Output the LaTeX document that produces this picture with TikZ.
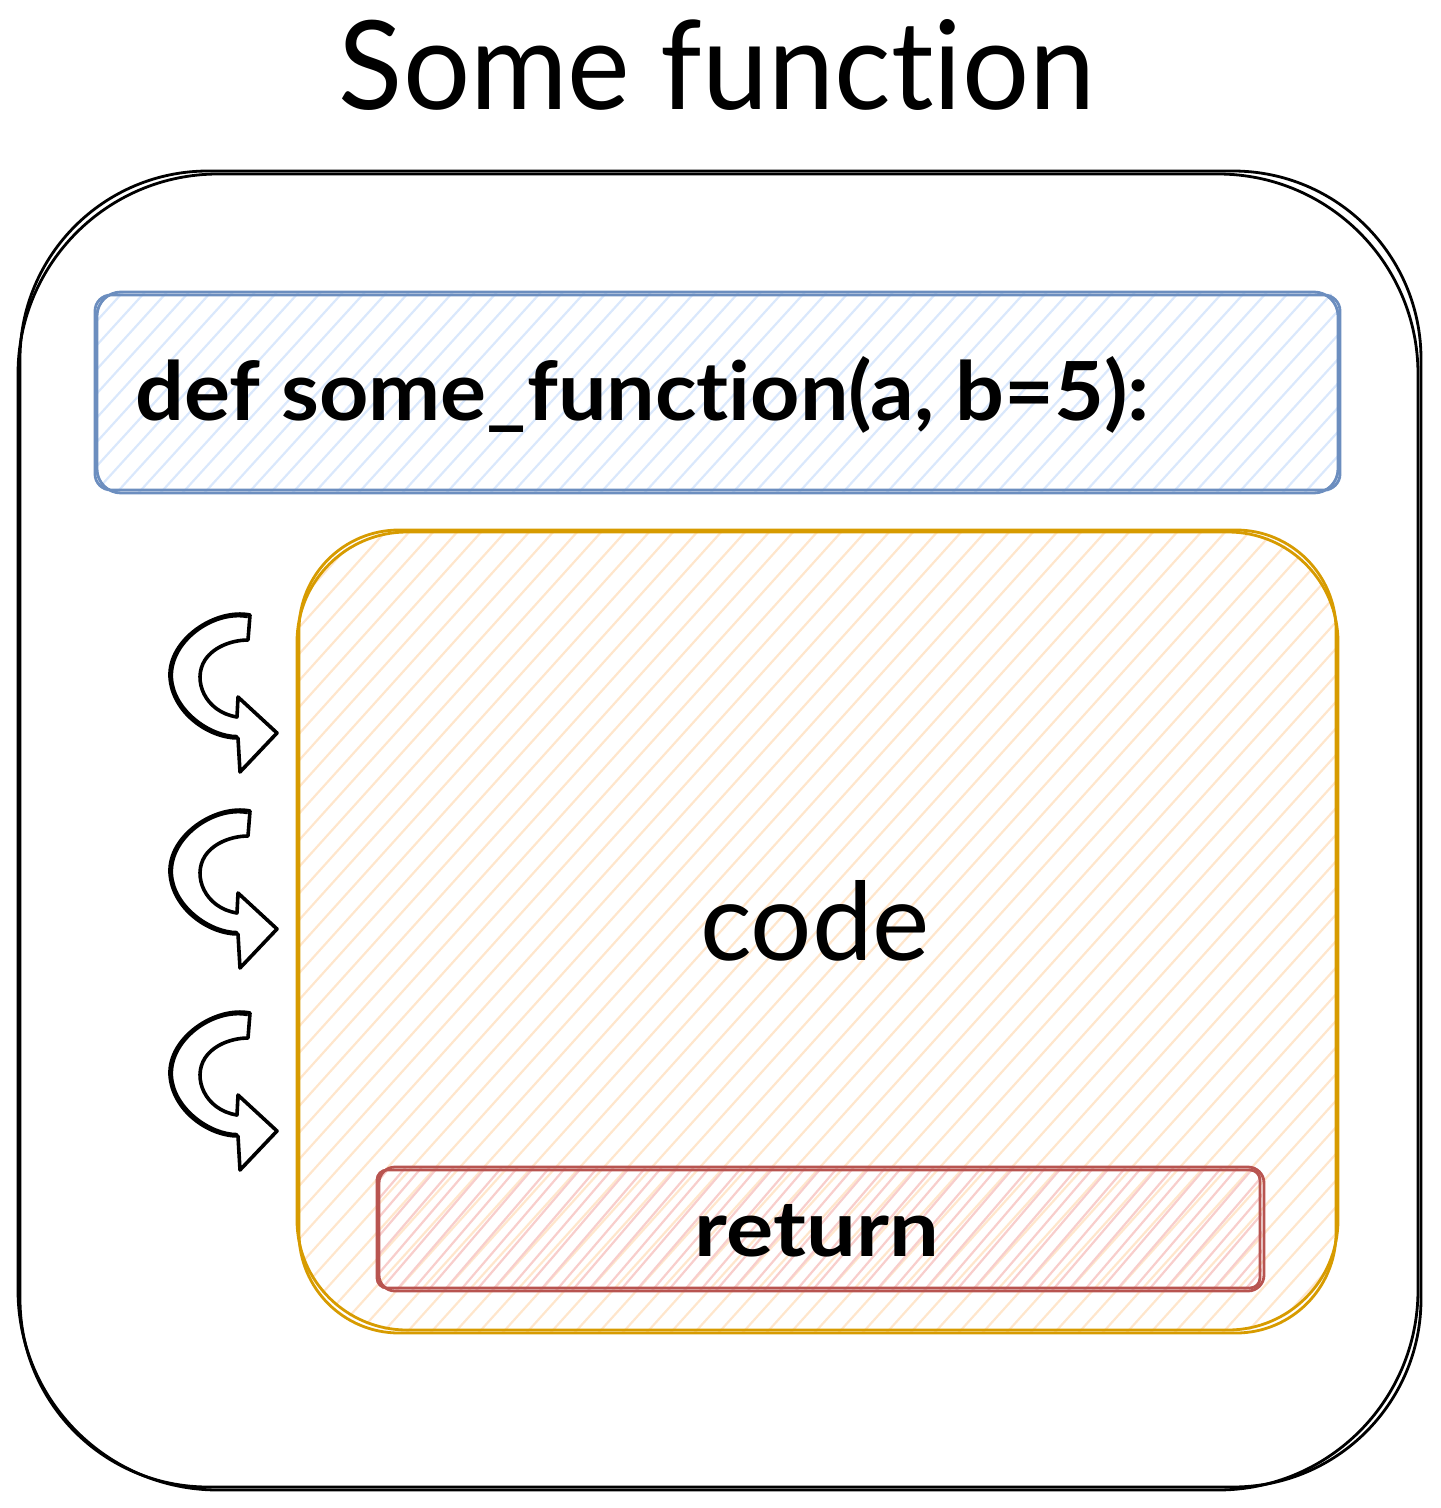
\documentclass[tikz,border=0pt]{standalone}
\usepackage{fontspec}
\setmainfont{Lato}[Ligatures=NoCommon]
\usepackage{graphicx}
\definecolor{bluestroke}{HTML}{6C8EBF}
\definecolor{bluefill}{HTML}{DAE8FC}
\definecolor{orangestroke}{HTML}{D79B00}
\definecolor{orangefill}{HTML}{FFE6CC}
\definecolor{redstroke}{HTML}{B85450}
\definecolor{redfill}{HTML}{F8CECC}
\begin{document}
\begin{tikzpicture}[x=0.5pt,y=-0.5pt,line join=round,line cap=round,
  outline/.style={line width=1.4pt},
  hatch/.style={line width=1.1pt},
  curvearrow/.style={draw=black,fill=white,line width=1.8pt},
  label/.style={inner sep=0pt,text=black}]
\useasboundingbox (0,0) rectangle (1440,1508);
% outer frame
\draw[outline,rounded corners=100pt] (18,174) rectangle (1418,1490);
\draw[outline,rounded corners=94pt] (20,171) rectangle (1421,1487);
% signature box
\begin{scope}
  \clip[rounded corners=8pt] (95,292) rectangle (1340,492);
  \foreach \i in {-220,-198,...,1360} \draw[hatch,bluefill] (\i,500) -- ++(200,-220);
\end{scope}
\draw[outline,bluestroke,rounded corners=8pt] (95,295) rectangle (1340,490);
\draw[outline,bluestroke,rounded corners=12pt] (97,292) rectangle (1338,493);
% code box
\begin{scope}
  \clip[rounded corners=55pt] (297,530) rectangle (1338,1332);
  \foreach \i in {-560,-536,...,1360} \draw[hatch,orangefill] (\i,1340) -- ++(740,-820);
\end{scope}
\draw[outline,orangestroke,rounded corners=55pt] (297,532) rectangle (1338,1330);
\draw[outline,orangestroke,rounded corners=50pt] (299,530) rectangle (1336,1333);
% return box
\begin{scope}
  \clip[rounded corners=5pt] (377,1168) rectangle (1262,1290);
  \foreach \i in {260,276,...,1280} \draw[hatch,redfill] (\i,1300) -- ++(120,-140);
\end{scope}
\draw[outline,redstroke,rounded corners=5pt] (377,1170) rectangle (1260,1288);
\draw[outline,redstroke,rounded corners=8pt] (379,1167) rectangle (1264,1291);
% curved arrows
\foreach \dy/\nm in {0/a1,196/a2,398/a3}{
  \begin{scope}[shift={(0,\dy)}]
    \draw[curvearrow] (250,615) .. controls (215,608) and (168,640) .. (170,677)
      .. controls (172,712) and (208,738) .. (238,738) -- (240,772) -- (277,733)
      -- (238,697) -- (237,717) .. controls (205,712) and (192,680) .. (205,660)
      .. controls (215,645) and (235,640) .. (248,640) -- cycle;
    \draw[line width=1.2pt] (247,617) .. controls (213,611) and (170,642) .. (172,678)
      .. controls (174,710) and (210,736) .. (237,736);
    \coordinate (\nm) at (277,733);
  \end{scope}
}
% texts
\node[label,anchor=base] (title) at (717,110) {\resizebox{378pt}{45pt}{Some function}};
\node[label,anchor=base west] (sig) at (135,420) {\resizebox{507pt}{32pt}{\bfseries def some\_function(a, b=5):}};
\node[label,anchor=base] (code) at (815,960) {\resizebox{115pt}{40pt}{code}};
\node[label,anchor=base] (ret) at (817,1256) {\resizebox{122pt}{26pt}{\bfseries return}};
\end{tikzpicture}
\end{document}
